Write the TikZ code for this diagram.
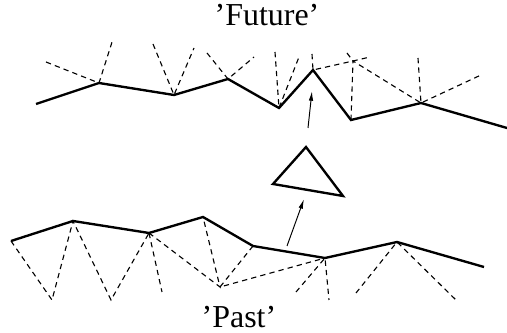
\documentclass[tikz,border=0pt]{standalone}
\usepackage{fontspec}
\setmainfont{Liberation Serif}
\usetikzlibrary{arrows.meta}

\begin{document}
\begin{tikzpicture}[
    x=0.36pt, y=-0.36pt,
    >={Latex[length=3.5pt,width=1.6pt]},
    front/.style={line width=0.85pt, line join=miter},
    helper/.style={thin, dash pattern=on 1.9pt off 1.5pt},
    move/.style={->, line width=0.35pt},
    label/.style={font=\fontsize{11.5}{13}\selectfont}
]
\useasboundingbox (0,0) rectangle (507,333);

% future front
\coordinate (f1) at (36,104);
\coordinate (f2) at (99,83);
\coordinate (f3) at (174,95);
\coordinate (f4) at (228,79);
\coordinate (f5) at (279,108);
\coordinate (f6) at (313,70);
\coordinate (f7) at (351,120);
\coordinate (f8) at (421,103);
\coordinate (f9) at (507,128);
\coordinate (fs) at (353,61);

% past front
\coordinate (p1) at (11,241);
\coordinate (p2) at (73,221);
\coordinate (p3) at (149,233);
\coordinate (p4) at (203,217);
\coordinate (p5) at (253,246);
\coordinate (p6) at (325,258);
\coordinate (p7) at (397,242);
\coordinate (p8) at (484,267);
\coordinate (q1) at (52,300);
\coordinate (q2) at (111,300);
\coordinate (q3) at (220,287);

% new element
\coordinate (t1) at (306,147);
\coordinate (t2) at (273,184);
\coordinate (t3) at (343,196);

\node[label] (future) at (267,15) {'Future'};
\node[label] (past) at (239,317) {'Past'};

\draw[front] (f1) -- (f2) -- (f3) -- (f4) -- (f5) -- (f6) -- (f7) -- (f8) -- (f9);
\draw[front] (p1) -- (p2) -- (p3) -- (p4) -- (p5) -- (p6) -- (p7) -- (p8);
\draw[front] (t1) -- (t2) -- (t3) -- cycle;

% dashed edges above the future front
\draw[helper] (46,62) -- (f2) -- (113,39);
\draw[helper] (153,44) -- (f3) -- (194,48);
\draw[helper] (207,53) -- (f4) -- (254,57);
\draw[helper] (275,52) -- (f5) -- (299,57);
\draw[helper] (312,54) -- (f6) -- (fs);
\draw[helper] (347,53) -- (fs) -- (370,57);
\draw[helper] (f7) -- (fs) -- (f8);
\draw[helper] (418,58) -- (f8) -- (481,75);

% dashed edges below the past front
\draw[helper] (p1) -- (q1) -- (p2) -- (q2) -- (p3);
\draw[helper] (p3) -- (162,292);
\draw[helper] (p3) -- (q3) -- (p4);
\draw[helper] (p5) -- (q3) -- (p6);
\draw[helper] (296,292) -- (p6) -- (329,300);
\draw[helper] (356,293) -- (p7) -- (456,300);

\draw[move] (287,246) -- (304,199);
\draw[move] (308,128) -- (312,91);
\end{tikzpicture}
\end{document}
